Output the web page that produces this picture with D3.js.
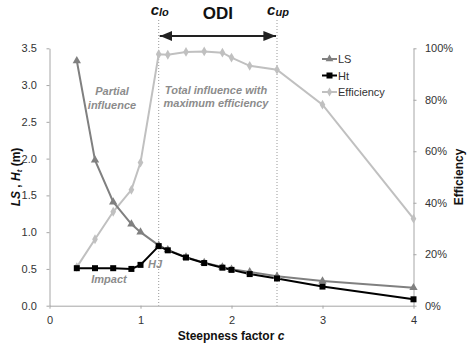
<!DOCTYPE html>
<html><head><meta charset="utf-8">
<script src="https://cdn.jsdelivr.net/npm/d3@7"></script>
<style>body{margin:0;background:#fff}svg{font-family:Arial,"Liberation Sans",sans-serif}</style>
</head><body><svg id="c" width="469" height="344"></svg>
<script>
const cLS = [0.3,0.5,0.7,0.9,1.0,1.2,1.3,1.5,1.7,1.9,2.0,2.2,2.5,3,4];
const LS  = [3.33,1.98,1.41,1.11,1.0,0.82,0.76,0.66,0.585,0.525,0.495,0.46,0.40,0.335,0.245];
const cHt = [0.3,0.5,0.7,0.9,1.0,1.2,1.3,1.5,1.7,1.9,2.0,2.2,2.5,3,4];
const Ht  = [0.51,0.51,0.51,0.50,0.555,0.81,0.753,0.655,0.58,0.517,0.487,0.43,0.37,0.26,0.087];
const cEff = [0.3,0.5,0.7,0.9,1.0,1.2,1.3,1.5,1.7,1.9,2.0,2.2,2.5,3,4];
const Eff = [0.15,0.258,0.365,0.45,0.556,0.977,0.975,0.986,0.988,0.983,0.964,0.932,0.917,0.781,0.338];
const xTicks = [0,1,2,3,4];
const yTicks = [0,0.5,1,1.5,2,2.5,3,3.5];
const effTicks = [0,0.2,0.4,0.6,0.8,1.0];
const cLo = 1.2, cUp = 2.5;

const svg = d3.select("#c");
const x = d3.scaleLinear().domain([0,4]).range([49.5,413.5]);
const y = d3.scaleLinear().domain([0,3.5]).range([305.7,48.3]);
const yr = d3.scaleLinear().domain([0,1]).range([305.7,48.3]);
const axisCol = "#a6a6a6", txtCol = "#333";

// axes
const gx = svg.append("g").attr("transform",`translate(0,${y(0)})`)
  .call(d3.axisBottom(x).tickValues(xTicks).tickFormat(d3.format("d")).tickSizeInner(3).tickSizeOuter(0));
const gy = svg.append("g").attr("transform",`translate(${x(0)},0)`)
  .call(d3.axisLeft(y).tickValues(yTicks).tickFormat(d3.format(".1f")).tickSizeInner(3).tickSizeOuter(0));
const gr = svg.append("g").attr("transform",`translate(${x(4)},0)`)
  .call(d3.axisRight(yr).tickValues(effTicks).tickFormat(d3.format(".0%")).tickSizeInner(3).tickSizeOuter(0));
[gx,gy,gr].forEach(g=>{
  g.selectAll("path,line").attr("stroke",axisCol);
  g.selectAll("text").attr("fill",txtCol).style("font-size","11px");
});
gx.selectAll("text").attr("dy","1.1em");
gy.selectAll("text").attr("dx","-0.6em");
gr.selectAll("text").attr("dx","0.5em");

// dotted lines
[cLo,cUp].forEach(v=>{
  svg.append("line").attr("x1",x(v)).attr("x2",x(v)).attr("y1",20).attr("y2",y(0))
    .attr("stroke","#999").attr("stroke-width",1).attr("stroke-dasharray","1,2");
});
// arrow
const defs = svg.append("defs");
defs.append("marker").attr("id","are").attr("viewBox","0 0 10 10").attr("refX",10).attr("refY",5)
   .attr("markerWidth",7).attr("markerHeight",7).attr("orient","auto-start-reverse")
   .append("path").attr("d","M0,1 L10,5 L0,9 Z").attr("fill","#222");
svg.append("line").attr("x1",x(cLo)+1).attr("x2",x(cUp)-1).attr("y1",36).attr("y2",36)
  .attr("stroke","#222").attr("stroke-width",1.8)
  .attr("marker-start","url(#are)").attr("marker-end","url(#are)");

// labels top
function subLabel(xp, main, sub){
  const t = svg.append("text").attr("x",xp).attr("y",15).attr("text-anchor","middle")
    .attr("font-weight","bold").attr("font-style","italic").attr("fill","#111");
  t.append("tspan").text(main).style("font-size","15px");
  t.append("tspan").text(sub).style("font-size","11px").attr("dy",1);
}
subLabel(x(cLo)+1,"c","lo");
subLabel(x(cUp)+1,"c","up");
svg.append("text").attr("x",(x(cLo)+x(cUp))/2).attr("y",19).attr("text-anchor","middle")
  .attr("font-weight","bold").style("font-size","17px").attr("fill","#111").text("ODI");

// series
const LScol="#808080", HtCol="#000", EffCol="#c0c0c0";
const line = (xs,ys,sc)=>d3.line().x((d,i)=>x(xs[i])).y(d=>sc(d))(ys);
svg.append("path").attr("d",line(cEff,Eff,yr)).attr("fill","none").attr("stroke",EffCol).attr("stroke-width",2);
svg.append("path").attr("d",line(cLS,LS,y)).attr("fill","none").attr("stroke",LScol).attr("stroke-width",2);
svg.append("path").attr("d",line(cHt,Ht,y)).attr("fill","none").attr("stroke",HtCol).attr("stroke-width",2);

const sym = (type,size)=>d3.symbol().type(type).size(size)();
svg.append("g").selectAll("path").data(Eff).join("path")
  .attr("transform",(d,i)=>`translate(${x(cEff[i])},${yr(d)})`).attr("d",sym(d3.symbolDiamond,28)).attr("fill",EffCol);
svg.append("g").selectAll("path").data(LS).join("path")
  .attr("transform",(d,i)=>`translate(${x(cLS[i])},${y(d)})`).attr("d",sym(d3.symbolTriangle,30)).attr("fill",LScol);
svg.append("g").selectAll("rect").data(Ht).join("rect")
  .attr("x",(d,i)=>x(cHt[i])-3).attr("y",d=>y(d)-3).attr("width",6).attr("height",6).attr("fill",HtCol);

// annotations
const ann = (xp,yp,txt,anchor="middle")=>svg.append("text").attr("x",xp).attr("y",yp).attr("text-anchor",anchor)
  .attr("font-weight","bold").attr("font-style","italic").attr("fill","#8c8c8c").style("font-size","11px").text(txt);
ann(112,95,"Partial");
ann(112,109,"influence");
ann(216,94,"Total influence with");
ann(216,107,"maximum efficiency");
ann(155,268,"HJ");
ann(109,283,"Impact");

// legend
const legend = [["LS",LScol,"tri"],["Ht",HtCol,"sq"],["Efficiency",EffCol,"dia"]];
legend.forEach((l,i)=>{
  const yy = 59 + i*16.5, x0 = 322, x1 = 337;
  svg.append("line").attr("x1",x0).attr("x2",x1).attr("y1",yy).attr("y2",yy).attr("stroke",l[1]).attr("stroke-width",2);
  const cx=(x0+x1)/2;
  if(l[2]=="tri") svg.append("path").attr("transform",`translate(${cx},${yy})`).attr("d",sym(d3.symbolTriangle,26)).attr("fill",l[1]);
  if(l[2]=="sq") svg.append("rect").attr("x",cx-3).attr("y",yy-3).attr("width",6).attr("height",6).attr("fill",l[1]);
  if(l[2]=="dia") svg.append("path").attr("transform",`translate(${cx},${yy})`).attr("d",sym(d3.symbolDiamond,24)).attr("fill",l[1]);
  svg.append("text").attr("x",x1+1).attr("y",yy+4).style("font-size","11px").attr("fill",txtCol).text(l[0]);
});

// axis titles
const yt = svg.append("text").attr("transform",`translate(20,${y(1.75)}) rotate(-90)`).attr("text-anchor","middle")
  .attr("font-weight","bold").attr("fill","#111").style("font-size","12px");
yt.append("tspan").attr("font-style","italic").text("LS");
yt.append("tspan").text(" , ");
yt.append("tspan").attr("font-style","italic").text("H");
yt.append("tspan").attr("font-style","italic").style("font-size","8px").attr("dy",2).text("t");
yt.append("tspan").attr("dy",-2).text(" (m)");
svg.append("text").attr("transform",`translate(463,${yr(0.5)}) rotate(-90)`).attr("text-anchor","middle")
  .attr("font-weight","bold").attr("fill","#111").style("font-size","12px").text("Efficiency");
const xt = svg.append("text").attr("x",231).attr("y",340).attr("text-anchor","middle")
  .attr("font-weight","bold").attr("fill","#111").style("font-size","12px");
xt.append("tspan").text("Steepness factor ");
xt.append("tspan").attr("font-style","italic").text("c");
</script></body></html>
